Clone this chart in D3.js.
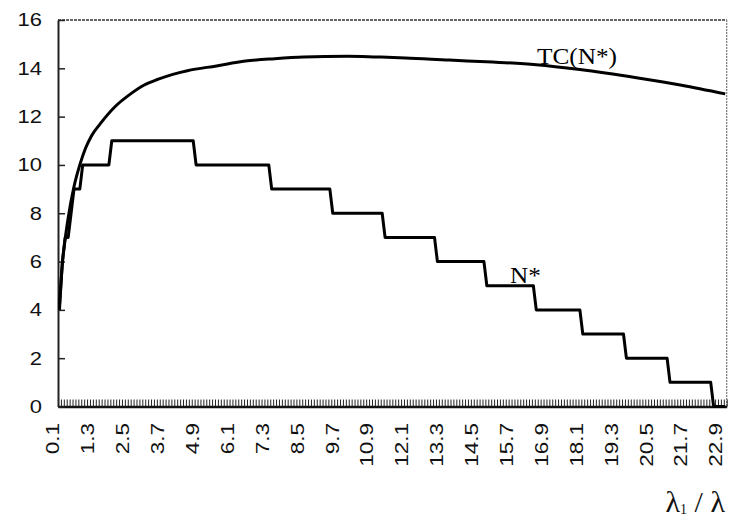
<html>
    <head>
        <meta charset="utf-8">
        <style>
            body { margin: 0; background: #fff; }
            svg { display: block; }
        </style>
    </head>
    <body>
        <svg width="729" height="521"></svg>
        <script src="https://unpkg.com/d3@7/dist/d3.min.js"></script>
        <script>
            // categories on the x axis run 0.1 .. 23.0 in steps of 0.1
            const firstCat = 0.1;
            const lastCat = 23.0;
            const xLabels = [0.1, 1.3, 2.5, 3.7, 4.9, 6.1, 7.3, 8.5, 9.7, 10.9, 12.1, 13.3, 14.5, 15.7, 16.9, 18.1, 19.3, 20.5, 21.7, 22.9];
            const yTicks = [0, 2, 4, 6, 8, 10, 12, 14, 16];

            // N* : step values, each held from stepFrom[i] until the next step
            const stepFrom = [0.1, 0.2, 0.3, 0.5, 0.6, 0.9, 1.9, 4.8, 7.4, 9.5, 11.3, 13.1, 14.8, 16.5, 18.1, 19.6, 21.1, 22.6];
            const stepN    = [4,   6,   7,   8,   9,   10,  11,  10,  9,   8,   7,    6,    5,    4,    3,    2,    1,    0];

            // TC(N*) curve
            const tcLambda = [0.1, 0.2, 0.4, 0.6, 0.8, 1.0, 1.2, 1.5, 2.0, 2.5, 3.0, 3.5, 4.0, 4.5, 5.5, 6.5, 7.5, 8.5, 10.0, 11.0, 12.0, 13.5, 15.0, 16.5, 18.0, 20.0, 21.5, 23.0];
            const tcValue  = [4.2, 5.9, 7.8, 9.1, 10.0, 10.7, 11.2, 11.7, 12.4, 12.9, 13.3, 13.55, 13.75, 13.9, 14.1, 14.3, 14.4, 14.47, 14.5, 14.47, 14.43, 14.34, 14.26, 14.15, 13.95, 13.6, 13.3, 12.94];

            const svg = d3.select('svg');
            const plotLeft = 58, plotRight = 726.7, plotTop = 20, plotBottom = 406.5;

            const x = d3.scaleLinear().domain([firstCat - 0.05, lastCat + 0.05]).range([plotLeft, plotRight]);
            const y = d3.scaleLinear().domain([0, 16]).range([plotBottom, plotTop]);

            // frame (top / right look lighter in the scan)
            svg.append('line').attr('x1', plotLeft).attr('x2', plotRight).attr('y1', plotTop).attr('y2', plotTop)
                .attr('stroke', '#666').attr('stroke-width', 2).attr('stroke-dasharray', '3,1');
            svg.append('line').attr('x1', plotRight).attr('x2', plotRight).attr('y1', plotTop).attr('y2', plotBottom)
                .attr('stroke', '#777').attr('stroke-width', 1.2).attr('stroke-dasharray', '2,1');

            // bottom axis: one tick at every category boundary, pointing inward
            const nCats = Math.round((lastCat - firstCat) * 10) + 1;
            const bounds = d3.range(nCats + 1).map(i => firstCat - 0.05 + i * 0.1);
            const xAxis = d3.axisBottom(x).tickValues(bounds).tickSizeInner(-7).tickSizeOuter(0).tickFormat('');
            svg.append('g').attr('transform', `translate(0,${plotBottom})`).call(xAxis)
                .call(g => g.select('.domain').attr('stroke', '#111').attr('stroke-width', 2.5))
                .call(g => g.selectAll('.tick line').attr('stroke', '#222').attr('stroke-width', 1));

            // left axis
            const yAxis = d3.axisLeft(y).tickValues(yTicks).tickSizeInner(-7).tickSizeOuter(0).tickFormat('');
            svg.append('g').attr('transform', `translate(${plotLeft},0)`).call(yAxis)
                .call(g => g.select('.domain').attr('stroke', '#222').attr('stroke-width', 2))
                .call(g => g.selectAll('.tick line').attr('stroke', '#222').attr('stroke-width', 1.5));

            svg.append('g').selectAll('text')
                .data(yTicks)
                .enter().append('text')
                .attr('transform', d => `translate(42,${y(d)}) scale(1.22,1)`)
                .attr('text-anchor', 'end')
                .attr('dy', '0.36em')
                .attr('font-family', 'Liberation Sans, Arial, sans-serif')
                .attr('font-size', 18)
                .attr('fill', '#111')
                .text(d => d);

            svg.append('g').selectAll('text')
                .data(xLabels)
                .enter().append('text')
                .attr('transform', d => `translate(${x(d)},423) rotate(-90) scale(1.25,1)`)
                .attr('text-anchor', 'end')
                .attr('font-family', 'Liberation Sans, Arial, sans-serif')
                .attr('font-size', 18)
                .attr('fill', '#111')
                .text(d => d.toFixed(1));

            // N* step line
            const nPoints = [];
            stepFrom.forEach((s, i) => {
                const e = i < stepFrom.length - 1 ? stepFrom[i + 1] - 0.1 : lastCat;
                nPoints.push([s, stepN[i]]);
                if (e > s + 1e-9) nPoints.push([e, stepN[i]]);
            });

            const line = d3.line().x(d => x(d[0])).y(d => y(d[1]));

            svg.append('path')
                .datum(nPoints)
                .attr('d', line)
                .attr('fill', 'none')
                .attr('stroke', '#000')
                .attr('stroke-width', 3)
                .attr('stroke-linejoin', 'round');

            svg.append('path')
                .datum(tcLambda.map((l, i) => [l, tcValue[i]]))
                .attr('d', line.curve(d3.curveMonotoneX))
                .attr('fill', 'none')
                .attr('stroke', '#000')
                .attr('stroke-width', 3);

            // series labels
            svg.append('text')
                .attr('transform', 'translate(537,64) scale(1.1,1)')
                .attr('font-family', 'Liberation Serif, Times New Roman, serif')
                .attr('font-size', 23)
                .text('TC(N*)');

            svg.append('text')
                .attr('transform', 'translate(510,283) scale(1.05,1)')
                .attr('font-family', 'Liberation Serif, Times New Roman, serif')
                .attr('font-size', 24)
                .text('N*');

            // axis title λ1 / λ
            const title = svg.append('text')
                .attr('x', 725).attr('y', 512)
                .attr('text-anchor', 'end')
                .attr('font-family', 'Liberation Serif, Times New Roman, serif')
                .attr('font-size', 30)
                .attr('fill', '#111');
            title.append('tspan').text('λ');
            title.append('tspan').attr('font-size', 14).attr('dy', 2).text('1');
            title.append('tspan').attr('dy', -2).text(' / λ');
        </script>
    </body>
</html>
